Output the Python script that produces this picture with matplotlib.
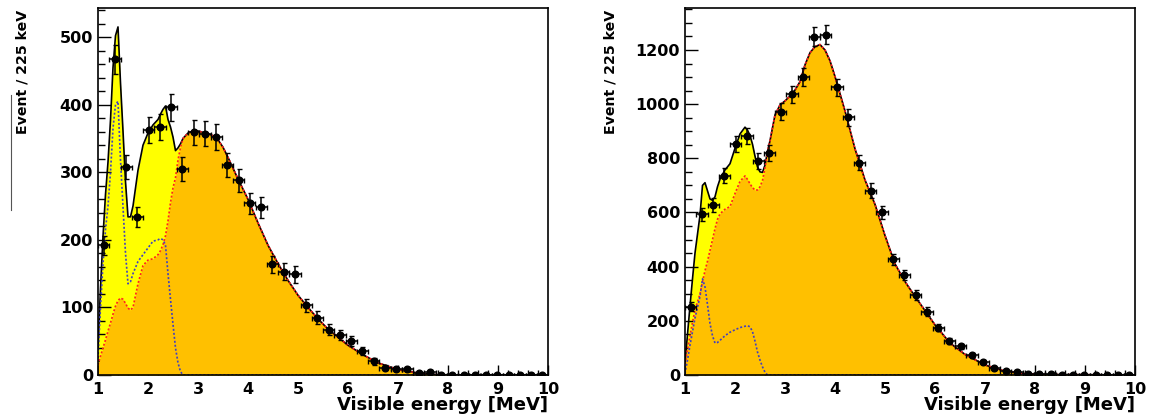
import numpy as np
import matplotlib
matplotlib.use("Agg")
import matplotlib.pyplot as plt
from matplotlib.lines import Line2D
from matplotlib.ticker import MultipleLocator

# binning: 40 bins of 225 keV from 1 to 10 MeV
bin_lo = 1.0
bin_w = 0.225
n_bins = 40

# measured counts per bin
left_counts = [192, 467, 308, 234, 362, 367, 396, 305, 359, 357,
               352, 311, 288, 254, 248, 164, 153, 149, 103, 85,
               67, 59, 50, 36, 20, 11, 9, 9, 3, 5,
               0, 0, 0, 0, 0, 0, 0, 0, 0, 0]
right_counts = [252, 593, 628, 736, 853, 883, 790, 819, 972, 1036,
                1102, 1249, 1256, 1062, 951, 784, 681, 600, 427, 369,
                295, 234, 175, 126, 106, 73, 48, 25, 13, 10,
                4, 3, 2, 0, 1, 0, 0, 0, 0, 0]

# fit components sampled along the energy axis
e_fit = [1.0, 1.05, 1.1, 1.15, 1.2, 1.25, 1.3, 1.35, 1.4, 1.45, 1.5, 1.55, 1.6, 1.65, 1.7,
         1.8, 1.9, 2.0, 2.1, 2.2,
         2.25, 2.3, 2.35, 2.4, 2.45, 2.5, 2.55, 2.6, 2.65, 2.7,
         2.8, 2.9, 3.0, 3.1, 3.2, 3.3, 3.4, 3.5, 3.6, 3.7, 3.8, 3.9, 4.0,
         4.2, 4.4, 4.6, 4.8, 5.0, 5.2, 5.4, 5.6, 5.8, 6.0,
         6.3, 6.6, 7.0, 7.4, 7.8, 8.2, 10.0]

left_main = [15, 28, 40, 52, 65, 77, 90, 102, 110, 114, 112, 106, 99, 96, 100,
             135, 162, 170, 172, 178,
             184, 193, 206, 228, 255, 277, 292, 318, 337, 350,
             358, 361, 361, 359, 357, 354, 348, 337, 322, 306, 290, 275, 260,
             225, 192, 165, 140, 118, 100, 83, 68, 56, 44,
             30, 18, 8, 3, 0.5, 0, 0]
left_low = [25, 100, 165, 215, 250, 300, 365, 400, 405, 318, 249, 180, 135, 138, 150,
            168, 178, 188, 198, 200,
            202, 200, 192, 150, 112, 75, 40, 18, 5, 0,
            0, 0, 0, 0, 0, 0, 0, 0, 0, 0, 0, 0, 0,
            0, 0, 0, 0, 0, 0, 0, 0, 0, 0,
            0, 0, 0, 0, 0, 0, 0]

right_main = [40, 95, 145, 195, 240, 270, 300, 345, 385, 420, 460, 500, 540, 575, 595,
              612, 622, 670, 715, 735,
              722, 706, 692, 683, 683, 695, 718, 765, 825, 865,
              960, 997, 1012, 1030, 1052, 1083, 1145, 1190, 1212, 1220, 1200, 1160, 1102,
              975, 835, 720, 630, 515, 410, 345, 290, 238, 185,
              118, 76, 37, 14, 5, 2, 0]
right_low = [5, 55, 110, 160, 210, 250, 290, 355, 325, 260, 190, 145, 118, 120, 128,
             145, 158, 167, 175, 180,
             182, 178, 160, 125, 85, 55, 30, 10, 0, 0,
             0, 0, 0, 0, 0, 0, 0, 0, 0, 0, 0, 0, 0,
             0, 0, 0, 0, 0, 0, 0, 0, 0, 0,
             0, 0, 0, 0, 0, 0, 0]

FONT = "DejaVu Sans"
YELLOW = "#ffff00"
ORANGE = "#ffc000"


def draw_panel(ax, counts, main, low, ymax, ymajor, yminor):
	centers = bin_lo + bin_w * (np.arange(n_bins) + 0.5)
	counts = np.asarray(counts, dtype=float)
	main = np.asarray(main, dtype=float)
	low = np.asarray(low, dtype=float)
	total = main + low

	ax.fill_between(e_fit, 0, total, color=YELLOW, lw=0, zorder=1)
	ax.fill_between(e_fit, 0, main, color=ORANGE, lw=0, zorder=2)
	ax.plot(e_fit, total, color="black", lw=1.2, zorder=3)
	ax.plot(e_fit, main, color="#ff2020", lw=1.2, ls=(0, (1.2, 1.2)), zorder=4)
	ax.plot(e_fit, low, color="#4040c0", lw=1.2, ls=(0, (1.2, 1.2)), zorder=4)

	ax.errorbar(centers, counts, yerr=np.sqrt(counts), xerr=bin_w / 2,
	            fmt="o", color="black", ms=4.8, elinewidth=1.1, capsize=1.8,
	            capthick=1.0, zorder=5)

	ax.set_xlim(1, 10)
	ax.set_ylim(0, ymax)
	ax.xaxis.set_major_locator(MultipleLocator(1))
	ax.xaxis.set_minor_locator(MultipleLocator(0.2))
	ax.yaxis.set_major_locator(MultipleLocator(ymajor))
	ax.yaxis.set_minor_locator(MultipleLocator(yminor))
	ax.tick_params(axis="x", which="major", direction="in", length=7, width=1.0, pad=5,
	               top=False, labelsize=11.5)
	ax.tick_params(axis="x", which="minor", direction="in", length=3.6, width=1.0, top=False)
	ax.tick_params(axis="y", which="major", direction="in", length=9.5, width=1.0, pad=3.5,
	               right=False, labelsize=11.5)
	ax.tick_params(axis="y", which="minor", direction="in", length=5, width=1.0, right=False)
	for lab in ax.get_xticklabels() + ax.get_yticklabels():
		lab.set_fontweight("bold")
		lab.set_family(FONT)
	for sp in ax.spines.values():
		sp.set_linewidth(1.2)
		sp.set_zorder(6)

	ax.set_xlabel("Visible energy [MeV]", loc="right", fontsize=13,
	              fontweight="bold", family=FONT)
	ax.xaxis.set_label_coords(1.0, -30 / 367)
	ax.xaxis.label.set_va("center")
	ax.set_ylabel("Event / 225 keV", loc="top", fontsize=10.2,
	              fontweight="bold", family=FONT)
	ax.yaxis.set_label_coords(-75 / 450, 0.995)
	ax.yaxis.label.set_va("center")


def main():
	fig = plt.figure(figsize=(11.52, 4.17), dpi=100)
	ax1 = fig.add_axes([98 / 1152, 42 / 417, 450 / 1152, 367 / 417])
	ax2 = fig.add_axes([685 / 1152, 42 / 417, 450 / 1152, 367 / 417])

	draw_panel(ax1, left_counts, left_main, left_low, 543, 100, 20)
	draw_panel(ax2, right_counts, right_main, right_low, 1355, 200, 50)

	# stray rule at the far left of the original figure
	fig.add_artist(Line2D([11 / 1152, 11 / 1152], [1 - 210 / 417, 1 - 95 / 417],
	                      color="#555555", lw=0.8))

	fig.savefig("out.png", dpi=100)


if __name__ == "__main__":
	main()
